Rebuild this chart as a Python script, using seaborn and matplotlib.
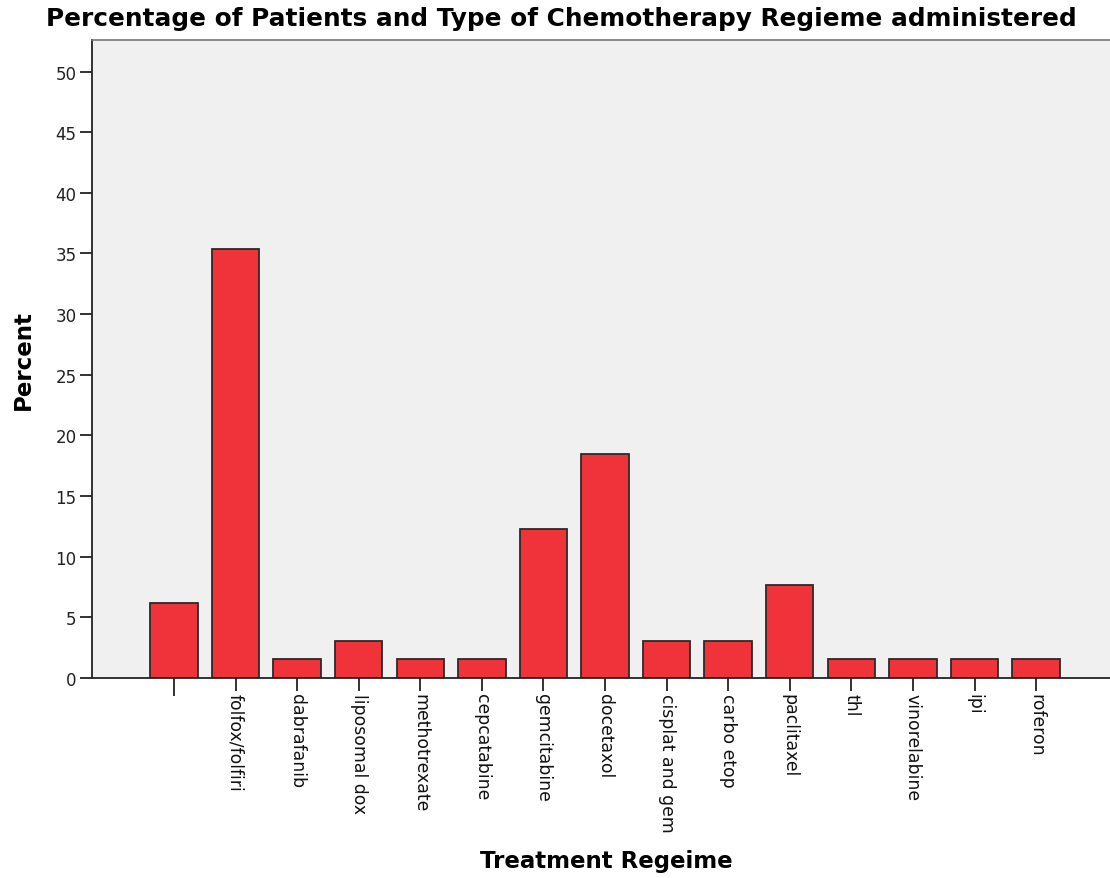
import matplotlib
matplotlib.use("Agg")
import matplotlib.pyplot as plt
import seaborn as sns
import pandas as pd

# tratamentos e percentuais (n = 65)
regimes = ["", "folfox/folfiri", "dabrafanib", "liposomal dox", "methotrexate",
           "cepcatabine", "gemcitabine", "docetaxol", "cisplat and gem",
           "carbo etop", "paclitaxel", "thl", "vinorelabine", "ipi", "roferon"]
percent = [6.15, 35.38, 1.54, 3.08, 1.54, 1.54, 12.31, 18.46, 3.08,
           3.08, 7.69, 1.54, 1.54, 1.54, 1.54]
yticks = list(range(0, 55, 5))

df = pd.DataFrame({"Regime": regimes, "Percent": percent})

sns.set_theme(style="white")
plt.rcParams["font.family"] = ["DejaVu Sans"]
plt.rcParams["text.color"] = "#000000"
plt.rcParams["axes.labelcolor"] = "#000000"

fig = plt.figure(figsize=(11.1, 8.79), dpi=100)
ax = fig.add_axes([0.0829, 0.2275, 0.9171, 0.7259])
ax.set_facecolor("#f0f0f0")

sns.barplot(data=df, x="Regime", y="Percent", color="#f0323a", saturation=1,
            width=0.77, edgecolor="#2a2a2a", linewidth=1.3, ax=ax)

ax.set_xlim(-1.33, 15.2)
ax.set_ylim(0, 52.6)
ax.set_yticks(yticks)
ax.set_yticklabels([str(t) for t in yticks], fontsize=12, color="#222222")

ax.set_xticks(range(len(regimes)))
ax.set_xticklabels(regimes, rotation=270, fontsize=12.4, color="#111111",
                   ha="center", va="top")

ax.tick_params(axis="both", direction="out", length=9, width=1.3, color="#222222",
               left=True, bottom=True, pad=2)
ax.xaxis.get_major_ticks()[0].tick1line.set_markersize(13)

for side in ["left", "bottom"]:
    ax.spines[side].set_color("#222222")
    ax.spines[side].set_linewidth(1.3)
ax.spines["top"].set_color("#777777")
ax.spines["top"].set_linewidth(1.2)
ax.spines["right"].set_visible(False)

ax.set_xlabel("Treatment Regeime", fontsize=16.5, fontweight="bold")
ax.set_ylabel("Percent", fontsize=16.5, fontweight="bold")
ax.xaxis.set_label_coords(0.505, -0.268)
ax.yaxis.set_label_coords(-0.056, 0.5)

fig.text(0.5054, 0.978, "Percentage of Patients and Type of Chemotherapy Regieme administered",
         ha="center", va="center", fontsize=17.8, fontweight="bold", color="#000000")

fig.savefig("out.png", dpi=100)
